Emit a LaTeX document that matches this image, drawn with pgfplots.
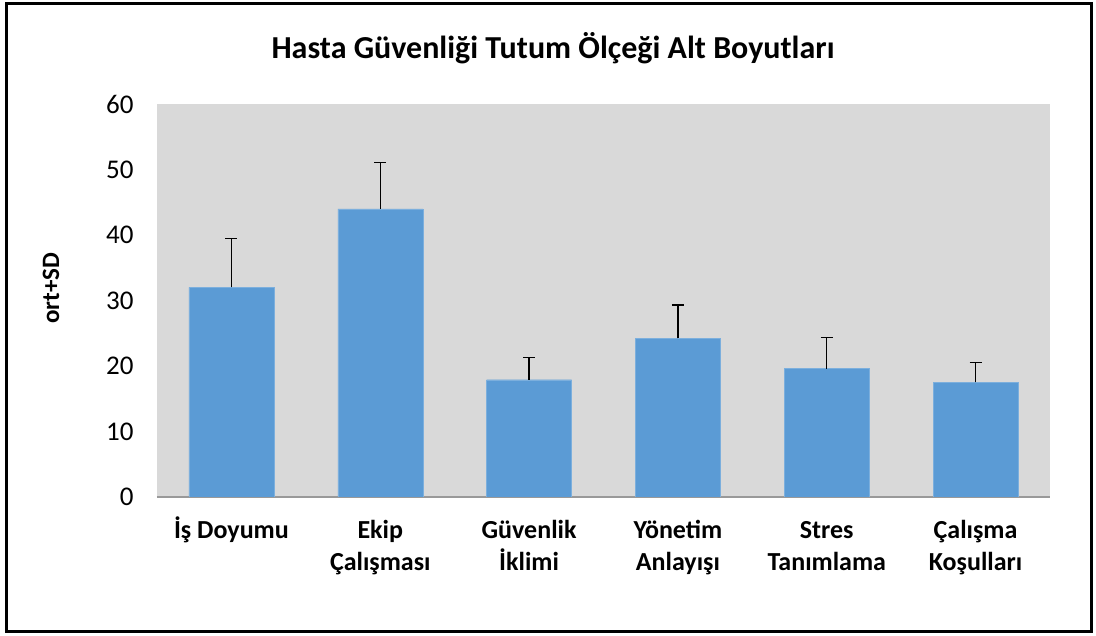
\documentclass[border=0pt]{standalone}
\usepackage{pgfplots}
\pgfplotsset{compat=1.18}
\usepackage{fontspec}
\setmainfont{Carlito}
\definecolor{barblue}{HTML}{5B9BD5}
\definecolor{bggray}{HTML}{D9D9D9}
\begin{document}
\begin{tikzpicture}[x=1pt,y=1pt]
\useasboundingbox (0,0) rectangle (1096,636);
\fill[white] (0,0) rectangle (1096,636);
\draw[line width=3pt] (6,4) rectangle (1091,632);
\node[font=\fontsize{32}{36}\selectfont\bfseries] at (553,588) {Hasta Güvenliği Tutum Ölçeği Alt Boyutları};
\node[font=\fontsize{25}{28}\selectfont\bfseries, rotate=90] at (51,348) {ort+SD};
\begin{axis}[
  at={(157pt,139pt)}, anchor=south west,
  scale only axis, width=893pt, height=393pt,
  xmin=-0.5, xmax=5.5, ymin=0, ymax=60,
  ytick={0,10,...,60},
  xtick={0,...,5},
  xticklabels={{İş Doyumu},{\vphantom{İ}Ekip\\Çalışması},{\vphantom{İ}Güvenlik\\İklimi},{\vphantom{İ}Yönetim\\Anlayışı},{\vphantom{İ}Stres\\Tanımlama},{\vphantom{İ}Çalışma\\Koşulları}},
  xticklabel style={align=center, anchor=north, font=\fontsize{26}{32}\selectfont\bfseries, yshift=-16pt},
  yticklabel style={font=\fontsize{27}{30}\selectfont, xshift=-20pt},
  /pgf/number format/assume math mode=true,
  major tick length=0pt,
  axis x line*=bottom, axis y line*=left,
  x axis line style={draw=gray!80, line width=1.2pt, -},
  y axis line style={draw=none},
  axis background/.style={fill=bggray},
  ybar, bar width=85pt,
]
\addplot[fill=barblue, draw=barblue!80!white, error bars/.cd, y dir=plus, y explicit,
  error bar style={black, line width=1.3pt}, error mark options={black, line width=1.3pt, mark size=6pt, rotate=90}]
  coordinates {
    (0,32.0) +- (0,7.45)
    (1,44.0) +- (0,7.05)
    (2,17.9) +- (0,3.35)
    (3,24.2) +- (0,5.1)
    (4,19.6) +- (0,4.75)
    (5,17.5) +- (0,3.0)
  };
\end{axis}
\end{tikzpicture}
\end{document}
